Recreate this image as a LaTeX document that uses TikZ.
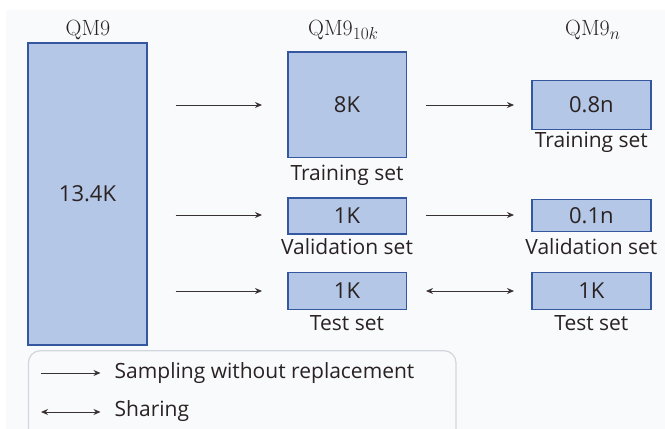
\documentclass[tikz,border=0pt]{standalone}
\usepackage{fontspec}
\newfontfamily\osans{Open Sans}
\usetikzlibrary{arrows.meta}
\definecolor{bg}{HTML}{F8FAFC}
\definecolor{boxfill}{HTML}{B4C7E7}
\definecolor{boxline}{HTML}{3557A0}
\definecolor{ink}{HTML}{2A2222}
\definecolor{arr}{HTML}{3A3232}
\definecolor{legline}{HTML}{D3D7DD}
\newcommand{\mysub}[1]{\raisebox{-4.5pt}{\fontsize{17}{20}\selectfont$#1$}}
\tikzset{
  setbox/.style={draw=boxline, fill=boxfill, line width=1.4pt},
  num/.style={inner sep=0pt, text=ink, font=\osans\fontsize{22}{26}\selectfont},
  lab/.style={inner sep=0pt, text=ink, font=\osans\fontsize{21}{25}\selectfont},
  head/.style={inner sep=0pt, text=ink, font=\fontsize{22}{26}\selectfont},
  samp/.style={draw=arr, line width=0.9pt, -{Stealth[length=7pt,width=6pt]}},
  share/.style={draw=arr, line width=0.9pt, {Stealth[length=7pt,width=6pt]}-{Stealth[length=7pt,width=6pt]}},
}
\begin{document}
\begin{tikzpicture}[x=1pt,y=-1pt]
\useasboundingbox (0,0) rectangle (665,429);
\fill[white] (0,0) rectangle (665,429);
\fill[bg] (6,10) rectangle (665,429);
\begin{scope}
\clip (0,0) rectangle (665,429);
\draw[legline, line width=1.2pt, rounded corners=12pt] (28.4,350.7) rectangle (456,445);
\end{scope}
% headers
\node[head, anchor=base] (h1) at (88,35) {QM9};
\node[head, anchor=base west] (h2) at (308,35) {QM9\mysub{10k}};
\node[head, anchor=base west] (h3) at (565,35) {QM9\mysub{n}};
% big box
\draw[setbox] (28,43) rectangle (147,345);
\node[num] (big) at (87.5,194) {13.4K};
% middle column
\draw[setbox] (288,52) rectangle (406.5,157.7);
\node[num] (m1) at (347,105) {8K};
\node[lab] (m1l) at (347,175) {Training set};
\draw[setbox] (288,198) rectangle (406.5,234);
\node[num] (m2) at (347,215.5) {1K};
\node[lab] (m2l) at (347,247) {Validation set};
\draw[setbox] (288,272.3) rectangle (406.5,309.7);
\node[num] (m3) at (347,291) {1K};
\node[lab] (m3l) at (347,323) {Test set};
% right column
\draw[setbox] (531.8,80.3) rectangle (651,129.3);
\node[num] (r1) at (591.4,105) {0.8n};
\node[lab] (r1l) at (591.4,142.5) {Training set};
\draw[setbox] (531.8,199.3) rectangle (651,231.7);
\node[num] (r2) at (591.4,215.5) {0.1n};
\node[lab] (r2l) at (591.4,247) {Validation set};
\draw[setbox] (531.8,272.3) rectangle (651,309.7);
\node[num] (r3) at (591.4,291) {1K};
\node[lab] (r3l) at (591.4,323) {Test set};
% arrows
\coordinate (a1s) at (175.6,105); \coordinate (a1e) at (262,105);
\coordinate (a2s) at (175.6,215); \coordinate (a2e) at (262,215);
\coordinate (a3s) at (175.6,291); \coordinate (a3e) at (262,291);
\coordinate (b1s) at (426,105); \coordinate (b1e) at (514,105);
\coordinate (b2s) at (426,215); \coordinate (b2e) at (514,215);
\coordinate (b3s) at (426,291); \coordinate (b3e) at (514,291);
\draw[samp] (a1s) -- (a1e);
\draw[samp] (a2s) -- (a2e);
\draw[samp] (a3s) -- (a3e);
\draw[samp] (b1s) -- (b1e);
\draw[samp] (b2s) -- (b2e);
\draw[share] (b3s) -- (b3e);
% legend
\coordinate (l1s) at (41,373); \coordinate (l1e) at (100.5,373);
\coordinate (l2s) at (41,412); \coordinate (l2e) at (100.5,412);
\draw[samp] (l1s) -- (l1e);
\draw[share] (l2s) -- (l2e);
\node[lab, anchor=west] (lt1) at (114.5,373) {Sampling without replacement};
\node[lab, anchor=west] (lt2) at (114.5,411) {Sharing};
\end{tikzpicture}
\end{document}
